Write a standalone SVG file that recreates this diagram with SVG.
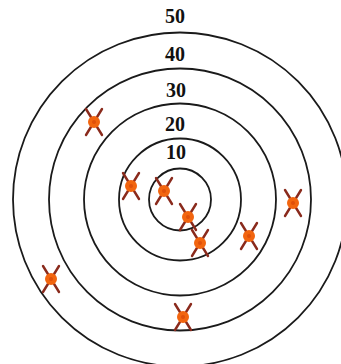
<svg xmlns="http://www.w3.org/2000/svg" width="341" height="364" viewBox="0 0 341 364">
<style>
.ring{fill:none;stroke:#1a1a1a;stroke-width:1.8}
.lbl{font-family:"Liberation Serif","DejaVu Serif",serif;font-weight:bold;font-size:20px;fill:#111;text-anchor:middle}
.x{stroke:#8a2a1c;stroke-width:2.4;fill:none;stroke-linecap:round}
.dot{fill:#f2650f}
</style>
<defs>
<g id="mark">
<path class="x" d="M-8,-13 L8,13 M8,-13 L-8,13"/>
<circle class="dot" r="6"/>
<circle r="2" fill="#e0500a"/>
</g>
</defs>
<rect width="341" height="364" fill="#fff"/>
<g id="rings">
<circle class="ring" cx="180" cy="199.5" r="167"/>
<circle class="ring" cx="180" cy="199.5" r="131"/>
<circle class="ring" cx="180" cy="199.5" r="96"/>
<circle class="ring" cx="180" cy="199.5" r="61"/>
<circle class="ring" cx="180" cy="199.5" r="31"/>
</g>
<g id="labels">
<text class="lbl" x="175" y="23">50</text>
<text class="lbl" x="175" y="61">40</text>
<text class="lbl" x="176" y="97">30</text>
<text class="lbl" x="175" y="131">20</text>
<text class="lbl" x="176" y="159">10</text>
</g>
<g id="marks">
<use href="#mark" x="94" y="122"/>
<use href="#mark" x="131" y="186"/>
<use href="#mark" x="164" y="191"/>
<use href="#mark" x="188" y="217"/>
<use href="#mark" x="200" y="243"/>
<use href="#mark" x="249" y="236"/>
<use href="#mark" x="293" y="203"/>
<use href="#mark" x="51" y="279"/>
<use href="#mark" x="183" y="317"/>
</g>
</svg>
